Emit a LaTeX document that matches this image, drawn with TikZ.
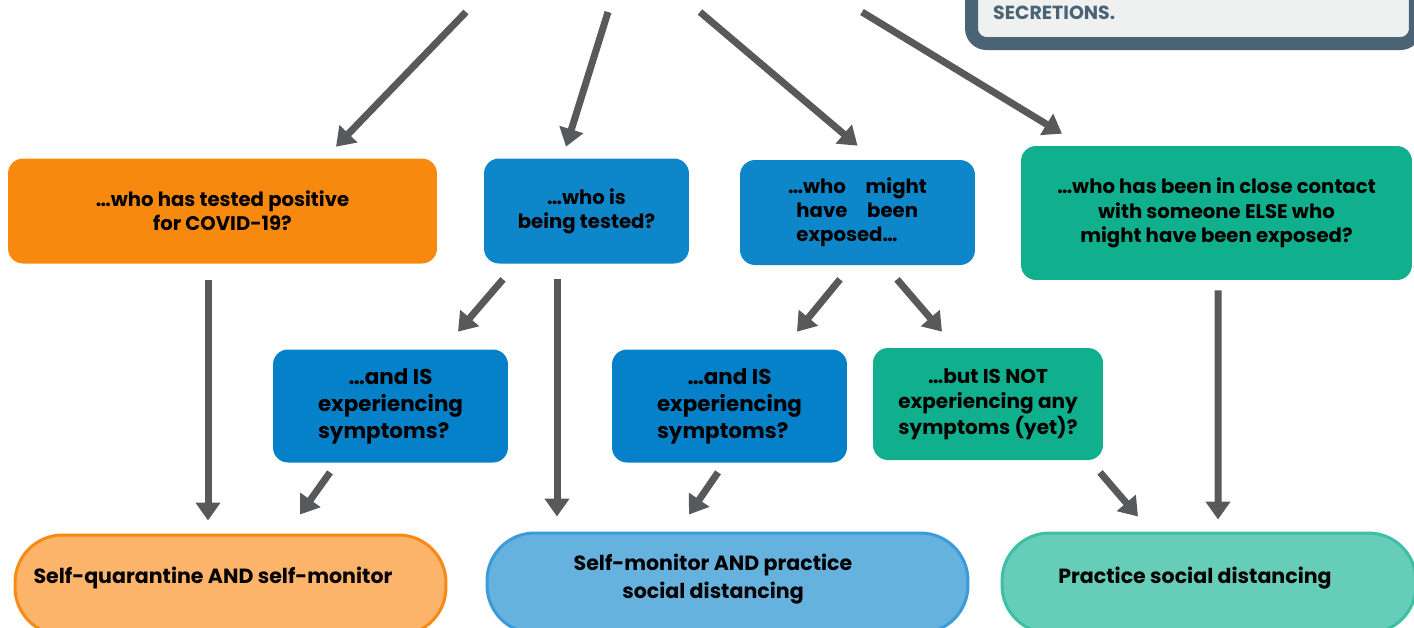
\documentclass[tikz,border=0pt]{standalone}
\usepackage{fontspec}
\setmainfont{Poppins}
\usepackage{tikz}
\usetikzlibrary{calc,arrows.meta}

\definecolor{orangeq}{HTML}{F8890F}
\definecolor{blueq}{HTML}{0E86CA}
\definecolor{blues}{HTML}{0581C9}
\definecolor{greenq}{HTML}{10AF8D}
\definecolor{arrowgray}{HTML}{58595B}
\definecolor{orangeo}{HTML}{FBB46A}
\definecolor{orangeb}{HTML}{F88A12}
\definecolor{blueo}{HTML}{66B2DF}
\definecolor{blueb}{HTML}{3C9AD8}
\definecolor{greeno}{HTML}{66CDB8}
\definecolor{greenb}{HTML}{3DBFA4}
\definecolor{infodark}{HTML}{4A6375}
\definecolor{infolight}{HTML}{EFF1F0}

\begin{document}
\begin{tikzpicture}[x=0.02cm,y=-0.02cm,>={Triangle[width=0.48cm,length=0.36cm]},
    qbox/.style={rounded corners=0.3cm, inner sep=0pt, align=center, text=black,
        font=\bfseries\fontsize{11.2}{13.8}\selectfont},
    sbox/.style={qbox, font=\bfseries\fontsize{12.2}{15.6}\selectfont},
    obox/.style={rounded corners=0.95cm, line width=0.06cm, minimum height=2cm},
    otext/.style={align=center, text=black, font=\bfseries\fontsize{11.7}{15.9}\selectfont},
    arr/.style={->, line width=0.14cm, draw=arrowgray}]
	%the frame
    \useasboundingbox (0,0) rectangle (1414,627);
	%box cut at the top right
    \node[draw=infodark, line width=0.26cm, fill=infolight, rounded corners=0.3cm,
        minimum width=8.88cm, minimum height=1.47cm] (info) at (1193.5,6.75) {};
    \node[anchor=west, text=infodark, font=\bfseries\fontsize{10.8}{12}\selectfont] (sec) at (987,13) {SECRETIONS.};
	%the questions
    \node[qbox, fill=orangeq, minimum width=8.58cm, minimum height=2.1cm] (q1) at (222.5,211) {…who has tested positive\\for COVID-19?};
    \node[qbox, fill=blueq, minimum width=4.1cm, minimum height=2.1cm] (q2) at (586.5,211) {…who is\\being tested?};
    \node[qbox, fill=blueq, minimum width=4.7cm, minimum height=2.1cm] (q3) at (857.5,212.5)
        {\begin{tabular}{@{}l@{}}…who\quad might\\\ \ have\quad been\\\ \ exposed…\end{tabular}};
    \node[qbox, fill=greenq, minimum width=7.82cm, minimum height=2.68cm] (q4) at (1216.5,213) {…who has been in close contact\\with someone ELSE who\\might have been exposed?};
    \node[sbox, fill=blues, minimum width=4.7cm, minimum height=2.26cm] (s1) at (390.5,406)
        {\begin{tabular}{@{}l@{}}\multicolumn{1}{@{}c@{}}{…and IS}\\experiencing\\symptoms?\end{tabular}};
    \node[sbox, fill=blues, minimum width=4.7cm, minimum height=2.26cm] (s2) at (729.5,406)
        {\begin{tabular}{@{}l@{}}\multicolumn{1}{@{}c@{}}{…and IS}\\experiencing\\symptoms?\end{tabular}};
    \node[qbox, fill=greenq, minimum width=4.6cm, minimum height=2.24cm, font=\bfseries\fontsize{11.4}{14.5}\selectfont] (s3) at (988,404) {…but IS NOT\\experiencing any\\symptoms (yet)?};
	%the answers
    \node[obox, draw=orangeb, fill=orangeo, minimum width=8.62cm] (o1) at (230.5,585) {};
    \node[obox, draw=blueb, fill=blueo, minimum width=9.62cm] (o2) at (727.5,583) {};
    \node[obox, draw=greenb, fill=greeno, minimum width=8.28cm] (o3) at (1209,583) {};
    \node[otext] (o1t) at (213,578) {Self-quarantine AND self-monitor};
    \node[otext] (o2t) at (713,579) {Self-monitor AND practice\\social distancing};
    \node[otext] (o3t) at (1195,578) {Practice social distancing};
	%arrows from above
    \coordinate (t1) at (466,12);
    \coordinate (t2) at (608,12);
    \coordinate (t3) at (700,12);
    \coordinate (t4) at (862,12);
    \draw[arr] (t1) -- ($(q1.north)+(113.5,-11.5)$);
    \draw[arr] (t2) -- ($(q2.north)+(-20.5,-11.5)$);
    \draw[arr] (t3) -- ($(q3.north)+(0,-14)$);
    \draw[arr] (t4) -- ($(q4.north)+(-154.5,-12)$);
	%arrows between the boxes
    \draw[arr] ($(q2.south)+(-83.5,15.5)$) -- ($(s1.north)+(67.5,-17.5)$);
    \draw[arr] ($(q2.south)+(-29.5,15.5)$) -- ($(o2.north)+(-170.5,-15)$);
    \draw[arr] ($(q3.south)+(-17.5,14)$) -- ($(s2.north)+(67.5,-17.5)$);
    \draw[arr] ($(q3.south)+(39.5,14)$) -- ($(s3.north)+(-46,-16)$);
    \draw[arr] ($(q1.south)+(-14.5,16.5)$) -- ($(o1.north)+(-22.5,-13)$);
    \draw[arr] ($(s1.south)+(-60.5,9.5)$) -- ($(o1.north)+(69.5,-19)$);
    \draw[arr] ($(s2.south)+(-11.5,9.5)$) -- ($(o2.north)+(-38.5,-17)$);
    \draw[arr] ($(s3.south)+(112,12)$) -- ($(o3.north)+(-71,-15)$);
    \draw[arr] ($(q4.south)+(1.5,10)$) -- ($(o3.north)+(9,-12)$);
\end{tikzpicture}
\end{document}
